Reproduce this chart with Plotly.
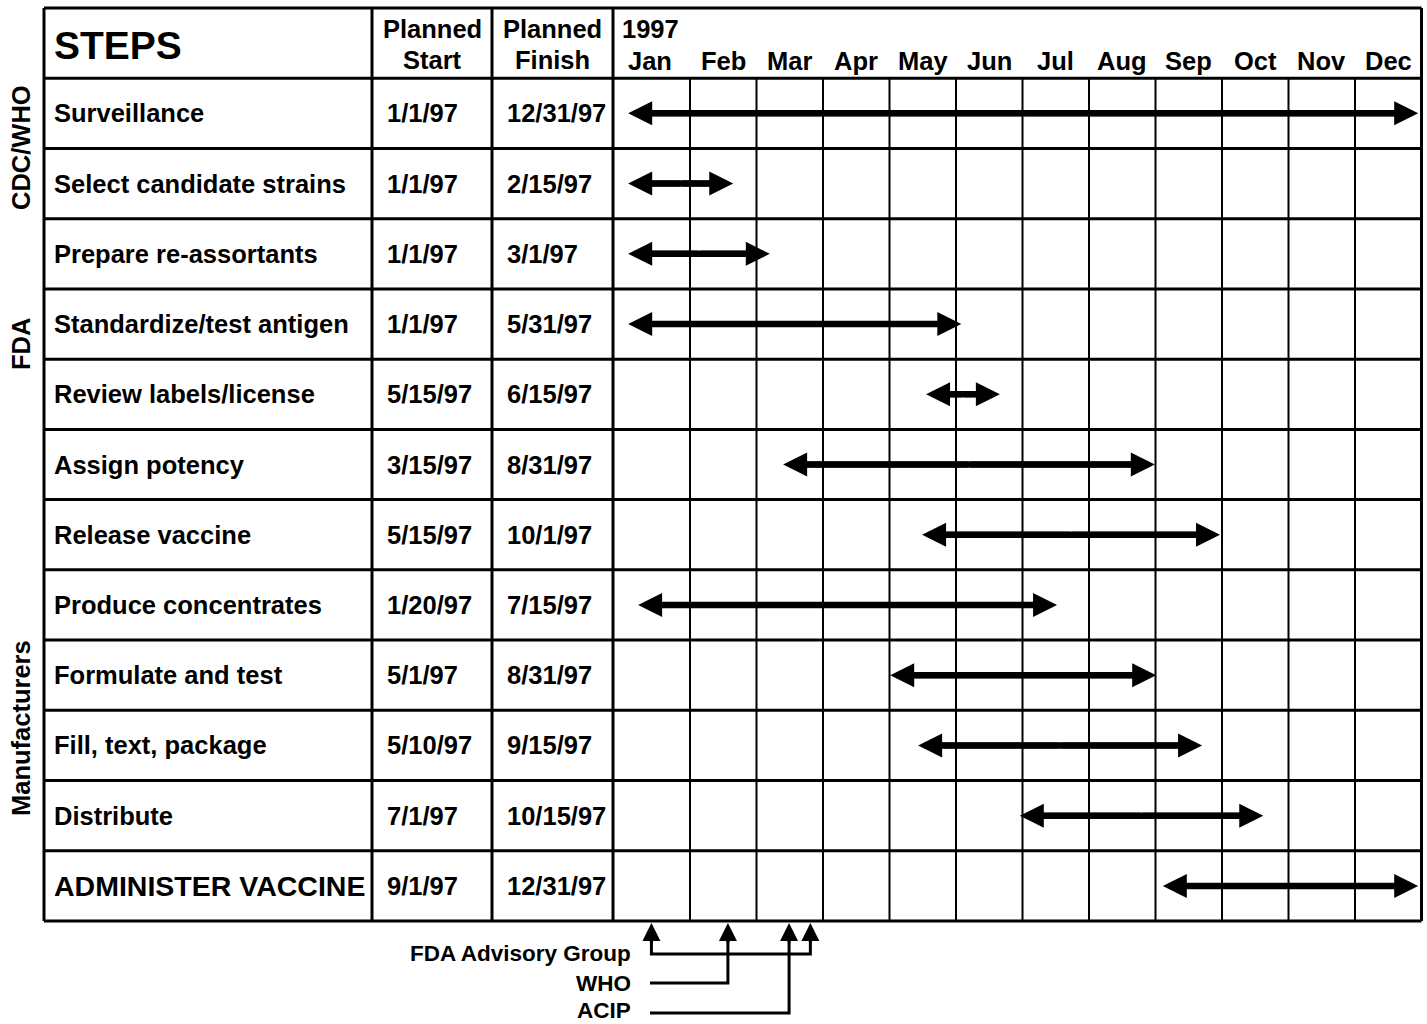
import plotly.graph_objects as go

# ---------------- data ----------------
steps = ["Surveillance", "Select candidate strains", "Prepare re-assortants",
         "Standardize/test antigen", "Review labels/license", "Assign potency",
         "Release vaccine", "Produce concentrates", "Formulate and test",
         "Fill, text, package", "Distribute", "ADMINISTER VACCINE"]
planned_start = ["1/1/97", "1/1/97", "1/1/97", "1/1/97", "5/15/97", "3/15/97",
                 "5/15/97", "1/20/97", "5/1/97", "5/10/97", "7/1/97", "9/1/97"]
planned_finish = ["12/31/97", "2/15/97", "3/1/97", "5/31/97", "6/15/97", "8/31/97",
                  "10/1/97", "7/15/97", "8/31/97", "9/15/97", "10/15/97", "12/31/97"]
# arrow extents, in months after Jan 1 1997, as drawn in the picture
arrow_start = [0.07, 0.07, 0.07, 0.07, 4.55, 2.40, 4.49, 0.22, 4.01, 4.43, 5.96, 8.11]
arrow_end = [11.95, 1.65, 2.20, 5.08, 5.66, 7.99, 8.97, 6.52, 8.01, 8.70, 9.62, 11.95]
months = ["Jan", "Feb", "Mar", "Apr", "May", "Jun", "Jul", "Aug", "Sep", "Oct", "Nov", "Dec"]
year_label = "1997"
groups = ["CDC/WHO", "FDA", "Manufacturers"]
meetings = ["FDA Advisory Group", "WHO", "ACIP"]
meeting_dates = [[0.42, 2.81], [1.57], [2.49]]   # months after Jan 1

# ---------------- geometry helpers (layout only) ----------------
W, H = 1427, 1024
X0_PX, PX_PER_MONTH = 623.5, 66.5
TOP_PX, ROW_PX = 8.0, 70.23


def xd(px):
    return (px - X0_PX) / PX_PER_MONTH


def yd(py):
    return -1.5 + (py - TOP_PX) / ROW_PX


FONT = "Liberation Sans, Arial, Helvetica, sans-serif"
n = len(steps)
y_top, y_bot = -1.5, n - 0.5
x_left, x_right = xd(44), 12.0
col_lines = [xd(372), xd(492), xd(613)]

fig = go.Figure()
shapes = []
annotations = []


def hline(y, x0, x1, w):
    shapes.append(dict(type="line", xref="x", yref="y", x0=x0, x1=x1, y0=y, y1=y,
                       line=dict(color="black", width=w), layer="below"))


def vline(x, y0, y1, w):
    shapes.append(dict(type="line", xref="x", yref="y", x0=x, x1=x, y0=y0, y1=y1,
                       line=dict(color="black", width=w), layer="below"))


# grid
for k in range(n + 2):
    hline(y_top + k, x_left, x_right, 3)
for c in [x_left] + col_lines + [x_right]:
    vline(c, y_top, y_bot, 3)
for m in range(1, 12):
    vline(m, y_top + 1, y_bot, 2)


def text(x, y, s, size, xanchor="left", angle=0):
    annotations.append(dict(x=x, y=y, xref="x", yref="y", text="<b>" + s + "</b>",
                            showarrow=False, xanchor=xanchor, yanchor="middle",
                            textangle=angle,
                            font=dict(family=FONT, size=size, color="black")))


# header
text(xd(52), yd(45), "STEPS", 39)
text(xd(432), yd(29), "Planned", 25.5, "center")
text(xd(432), yd(60), "Start", 25.5, "center")
text(xd(552), yd(29), "Planned", 25.5, "center")
text(xd(552), yd(60), "Finish", 25.5, "center")
text(xd(620), yd(29), year_label, 25.5)
for i, mo in enumerate(months):
    cx = 0.4 if i == 0 else i + 0.5
    text(cx, yd(61), mo, 25.5, "center")

# rows
for i in range(n):
    size = 28.5 if i == n - 1 else 25.5
    text(xd(52), i, steps[i], size)
    text(xd(385), i, planned_start[i], 25.5)
    text(xd(505), i, planned_finish[i], 25.5)

# group labels
for g, py in zip(groups, [148, 344, 728]):
    text(xd(21), yd(py), g, 25.5, "center", -90)

# timeline arrows: thick shaft + heads at both ends
for i in range(n):
    s, e = arrow_start[i], arrow_end[i]
    fig.add_trace(go.Scatter(x=[s + 0.2, e - 0.2], y=[i, i], mode="lines",
                             line=dict(color="black", width=6.5), hoverinfo="skip"))
    mid = (s + e) / 2
    for tip in (s, e):
        annotations.append(dict(x=tip, y=i, ax=mid, ay=i, xref="x", yref="y",
                                axref="x", ayref="y", text="", showarrow=True,
                                arrowhead=2, arrowsize=0.8, arrowwidth=6,
                                arrowcolor="black", standoff=0, font=dict(size=1)))

# meetings below the table
y_tip = yd(923)
y_rows = [yd(954), yd(983), yd(1013)]
lab_rows = [yd(953), yd(983), yd(1010)]
x_lab = xd(650)
for name, dates, yy, ly in zip(meetings, meeting_dates, y_rows, lab_rows):
    text(xd(633), ly, name, 22.5, "right")
    if len(dates) == 2:
        xs = [dates[0], dates[0], dates[1], dates[1]]
        ys = [y_tip + 0.1, yy, yy, y_tip + 0.1]
    else:
        xs = [x_lab, dates[0], dates[0]]
        ys = [yy, yy, y_tip + 0.1]
    fig.add_trace(go.Scatter(x=xs, y=ys, mode="lines",
                             line=dict(color="black", width=3), hoverinfo="skip"))
    for d in dates:
        annotations.append(dict(x=d, y=y_tip, ax=d, ay=y_tip + 0.3, xref="x", yref="y",
                                axref="x", ayref="y", text="", showarrow=True,
                                arrowhead=2, arrowsize=1.2, arrowwidth=3,
                                arrowcolor="black", standoff=0, font=dict(size=1)))

fig.update_layout(
    width=W, height=H, autosize=False,
    margin=dict(l=0, r=0, t=0, b=0, pad=0),
    paper_bgcolor="white", plot_bgcolor="white",
    showlegend=False, hovermode=False,
    xaxis=dict(range=[xd(0), xd(W)], domain=[0, 1], visible=False, fixedrange=True),
    yaxis=dict(range=[yd(H), yd(0)], domain=[0, 1], visible=False, fixedrange=True),
    shapes=shapes, annotations=annotations,
)

fig.write_html("out.html", config={"displayModeBar": False},
               post_script="document.body.style.margin='0';document.body.style.overflow='hidden';")
